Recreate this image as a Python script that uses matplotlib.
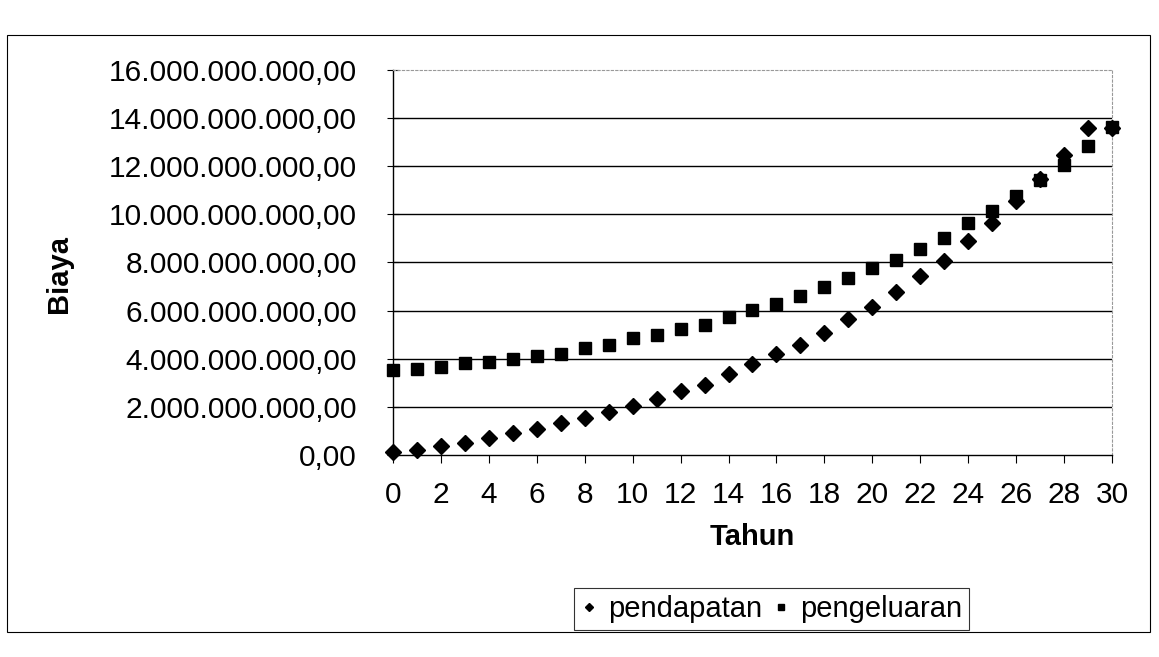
import matplotlib.pyplot as plt
from matplotlib.patches import Rectangle
from matplotlib.ticker import FuncFormatter

plt.rcParams['font.family'] = ['Liberation Sans', 'DejaVu Sans']

# data
tahun = list(range(0, 31))
pendapatan = [0.11e9, 0.20e9, 0.36e9, 0.51e9, 0.69e9, 0.93e9, 1.08e9, 1.32e9,
              1.53e9, 1.77e9, 2.05e9, 2.31e9, 2.65e9, 2.92e9, 3.38e9, 3.76e9,
              4.20e9, 4.59e9, 5.08e9, 5.64e9, 6.13e9, 6.77e9, 7.42e9, 8.07e9,
              8.88e9, 9.62e9, 10.54e9, 11.46e9, 12.46e9, 13.60e9, 13.60e9]
pengeluaran = [3.52e9, 3.57e9, 3.64e9, 3.83e9, 3.88e9, 4.00e9, 4.10e9, 4.21e9,
               4.45e9, 4.57e9, 4.85e9, 4.99e9, 5.23e9, 5.40e9, 5.75e9, 6.03e9,
               6.28e9, 6.62e9, 6.96e9, 7.34e9, 7.77e9, 8.12e9, 8.54e9, 9.01e9,
               9.62e9, 10.13e9, 10.78e9, 11.43e9, 12.05e9, 12.84e9, 13.62e9]
y_ticks = [0, 2e9, 4e9, 6e9, 8e9, 10e9, 12e9, 14e9, 16e9]
x_ticks = list(range(0, 31, 2))


def rupiah(v, pos):
    s = '{:,.2f}'.format(v)
    return s.replace(',', 'X').replace('.', ',').replace('X', '.')


fig = plt.figure(figsize=(11.59, 6.57), dpi=100)
ax = fig.add_axes([0.339, 0.3075, 0.6205, 0.586])

# outer chart frame
fig.patches.append(Rectangle((7 / 1159, 1 - 632 / 657), 1143 / 1159, 597 / 657,
                             transform=fig.transFigure, fill=False,
                             edgecolor='black', lw=0.8))

for y in y_ticks[1:-1]:
    ax.axhline(y, color='black', lw=1.0, zorder=1)

ax.plot(tahun, pendapatan, 'D', color='black', markersize=8, label='pendapatan',
        zorder=3, clip_on=False)
ax.plot(tahun, pengeluaran, 's', color='black', markersize=8.5, label='pengeluaran',
        zorder=4, clip_on=False)

ax.set_xlim(0, 30)
ax.set_ylim(0, 16e9)
ax.set_xticks(x_ticks)
ax.set_yticks(y_ticks)
ax.yaxis.set_major_formatter(FuncFormatter(rupiah))
ax.tick_params(axis='y', direction='inout', length=8, labelsize=21.5, pad=22)
ax.tick_params(axis='x', direction='out', length=6, labelsize=21.5, pad=13)

for s in ['left', 'bottom']:
    ax.spines[s].set_color('black')
    ax.spines[s].set_linewidth(1.0)
for s in ['top', 'right']:
    ax.spines[s].set_color('#999999')
    ax.spines[s].set_linestyle((0, (2, 2)))
    ax.spines[s].set_linewidth(0.8)

ax.set_xlabel('Tahun', fontsize=21, fontweight='bold', labelpad=10)
ax.set_ylabel('Biaya', fontsize=21, fontweight='bold')
ax.yaxis.set_label_coords(-0.445, 0.47)

leg = ax.legend(loc='center', bbox_to_anchor=(772 / 1159, 1 - 609 / 657),
                bbox_transform=fig.transFigure, ncol=2, fontsize=21,
                frameon=True, fancybox=False, edgecolor='black',
                handlelength=0.5, handletextpad=0.4, columnspacing=0.4,
                borderpad=0.25, markerscale=0.55)
leg.get_frame().set_linewidth(0.8)

fig.savefig('out.png', dpi=100)
